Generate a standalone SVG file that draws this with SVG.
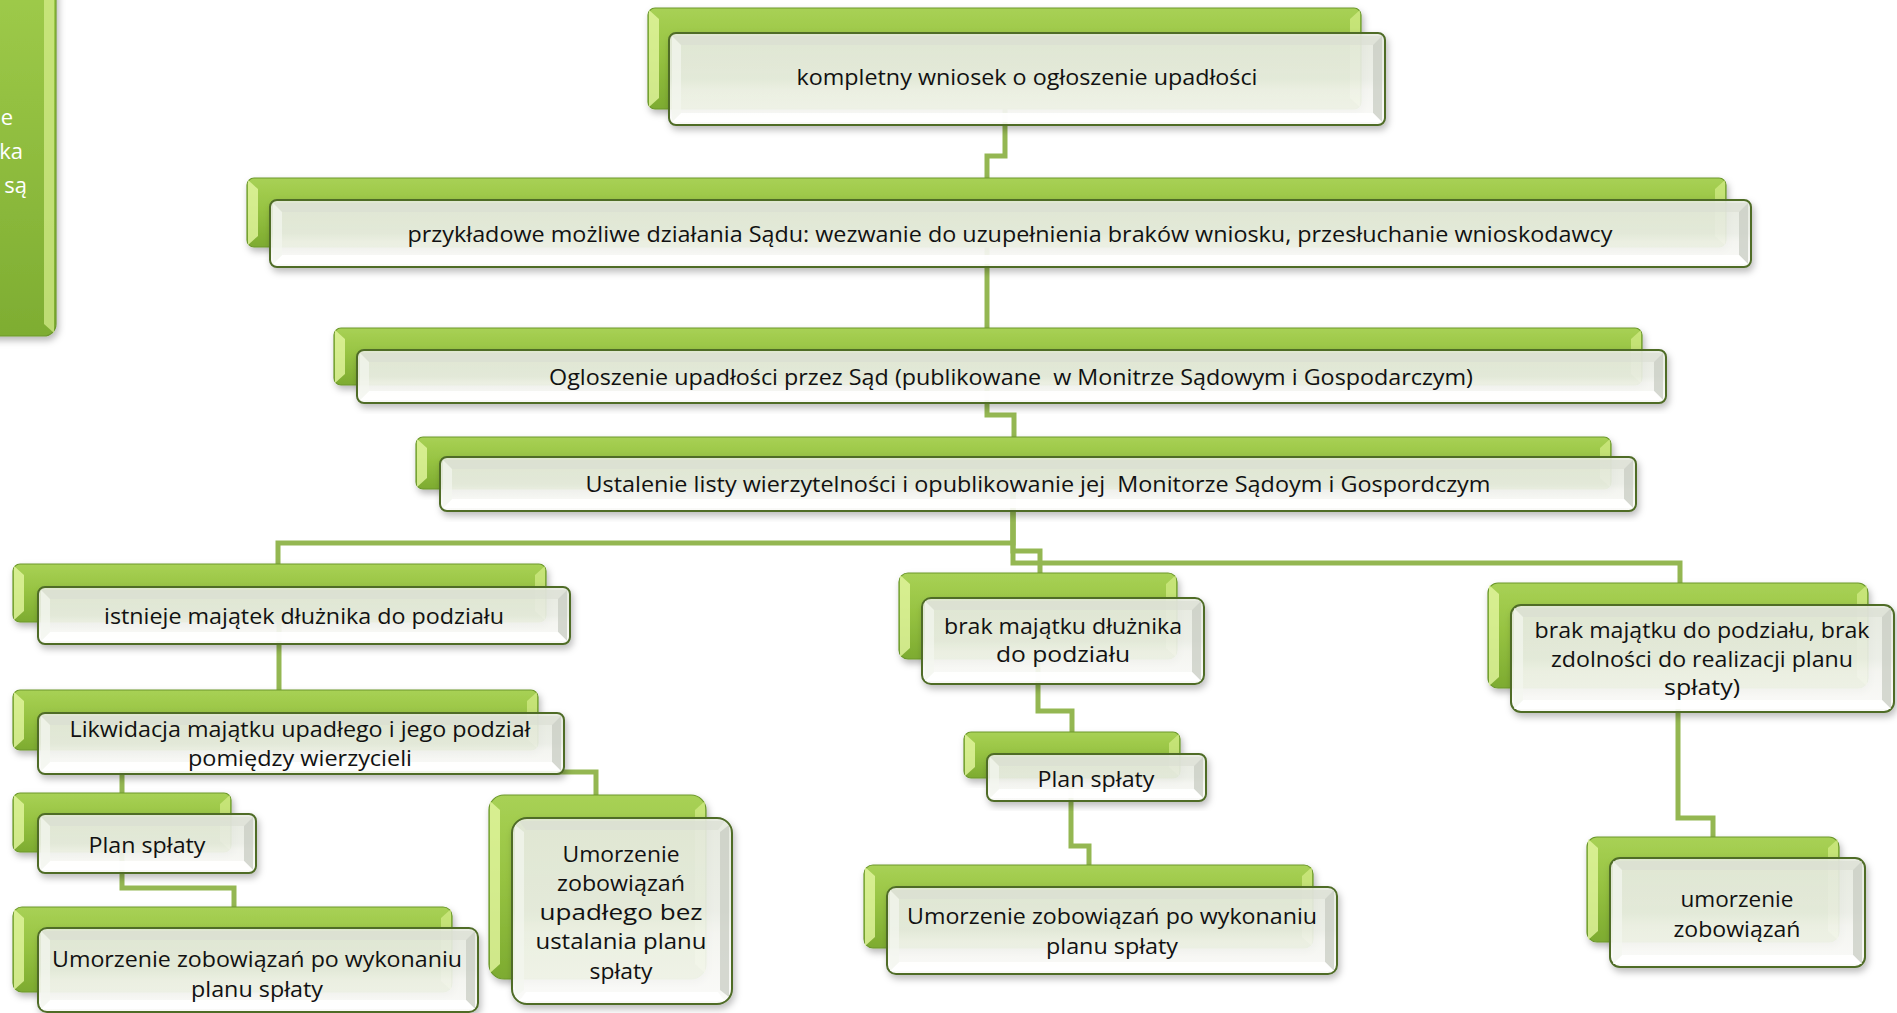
<svg xmlns="http://www.w3.org/2000/svg" width="1897" height="1013" viewBox="0 0 1897 1013">
<defs>
<linearGradient id="gG" x1="0" y1="0" x2="0" y2="1">
<stop offset="0" stop-color="#a8d155"/>
<stop offset="0.45" stop-color="#97c342"/>
<stop offset="1" stop-color="#7dab30"/>
</linearGradient>
<linearGradient id="gW" x1="0" y1="0" x2="0" y2="1">
<stop offset="0" stop-color="#e7ebe0"/>
<stop offset="0.5" stop-color="#edf0e8"/>
<stop offset="0.62" stop-color="#f6f7f2"/>
<stop offset="1" stop-color="#fdfdfb"/>
</linearGradient>
<linearGradient id="gL" x1="0" y1="0" x2="0" y2="1">
<stop offset="0" stop-color="#9fcb4a"/>
<stop offset="1" stop-color="#7ead32"/>
</linearGradient>
<filter id="sh" x="-5%" y="-10%" width="115%" height="130%">
<feDropShadow dx="2" dy="4" stdDeviation="3.5" flood-color="#000" flood-opacity="0.28"/>
</filter>
</defs>
<style>
.g{fill:url(#gG);stroke:#6c982c;stroke-width:1.2;filter:url(#sh)}
.w{fill:url(#gW);fill-opacity:0.9;stroke:#4f6c28;stroke-width:2;filter:url(#sh)}
.bl{fill:#e3f6a0;opacity:0.8}
.br{fill:#d8f08e;opacity:0.65}
.wt{fill:#d9ddd2;opacity:0.55}
.wr{fill:#c6cac0;opacity:0.7}
.wb{fill:#ffffff;opacity:0.9}
.wl{fill:#f4f6f0;opacity:0.7}
.t{font-family:"Open Sans","Noto Sans",sans-serif;font-size:22px;fill:#111;text-anchor:middle;dominant-baseline:central}
.tw{font-family:"Open Sans","Noto Sans",sans-serif;font-size:22px;fill:#fff;text-anchor:end;dominant-baseline:central}
.c{fill:none;stroke:#94b752;stroke-width:5;stroke-linejoin:miter}
</style>
<rect width="1897" height="1013" fill="#ffffff"/>

<g id="connectors">
<path class="c" d="M1005,109 V156 H987 V178"/>
<path class="c" d="M987,247 V328"/>
<path class="c" d="M987,385 V415 H1014 V437"/>
<path class="c" d="M1013,489 V543 H278 V564"/>
<path class="c" d="M1013,489 V551 H1040 V573"/>
<path class="c" d="M1013,489 V563 H1680 V583"/>
<path class="c" d="M279,622 V690"/>
<path class="c" d="M276,750 V772 H122 V793"/>
<path class="c" d="M276,750 V772 H596 V795"/>
<path class="c" d="M122,852 V888 H234 V907"/>
<path class="c" d="M1038,659 V711 H1072 V732"/>
<path class="c" d="M1071,778 V846 H1089 V865"/>
<path class="c" d="M1678,688 V818 H1713 V837"/>
</g>

<g id="node-left">
<rect x="-40" y="-20" width="96" height="356" rx="12" fill="url(#gL)" stroke="#6c982c" stroke-width="1.2" filter="url(#sh)"/>
<polygon points="54,-10 44,-10 44,324 54,333" fill="#d8f08e" opacity="0.7"/>
<text class="tw" x="13" y="116">e</text>
<text class="tw" x="23" y="150">ka</text>
<text class="tw" x="27" y="184">są</text>
</g>

<g id="n1">
<rect class="g" x="648" y="8" width="713" height="101" rx="7"/>
<polygon class="bl" points="649,10 659,19 659,98 649,107"/>
<polygon class="br" points="1360,10 1350,19 1350,98 1360,107"/>
<rect class="w" x="669" y="33" width="716" height="92" rx="7"/>
<polygon class="wt" points="672,36 1382,36 1373,45 681,45"/>
<polygon class="wr" points="1382,36 1382,122 1373,113 1373,45"/>
<polygon class="wb" points="672,122 1382,122 1373,113 681,113"/>
<polygon class="wl" points="672,36 681,45 681,113 672,122"/>
<text class="t" x="1027" y="76" textLength="461" lengthAdjust="spacingAndGlyphs">kompletny wniosek o ogłoszenie upadłości</text>
</g>

<g id="n2">
<rect class="g" x="247" y="178" width="1479" height="69" rx="7"/>
<polygon class="bl" points="248,180 258,189 258,236 248,245"/>
<polygon class="br" points="1725,180 1715,189 1715,236 1725,245"/>
<rect class="w" x="270" y="200" width="1481" height="67" rx="7"/>
<polygon class="wt" points="273,203 1748,203 1739,212 282,212"/>
<polygon class="wr" points="1748,203 1748,264 1739,255 1739,212"/>
<polygon class="wb" points="273,264 1748,264 1739,255 282,255"/>
<polygon class="wl" points="273,203 282,212 282,255 273,264"/>
<text class="t" x="1010" y="233" textLength="1205" lengthAdjust="spacingAndGlyphs">przykładowe możliwe działania Sądu: wezwanie do uzupełnienia braków wniosku, przesłuchanie wnioskodawcy</text>
</g>

<g id="n3">
<rect class="g" x="334" y="328" width="1308" height="57" rx="7"/>
<polygon class="bl" points="335,330 345,339 345,374 335,383"/>
<polygon class="br" points="1641,330 1631,339 1631,374 1641,383"/>
<rect class="w" x="357" y="350" width="1309" height="53" rx="7"/>
<polygon class="wt" points="360,353 1663,353 1654,362 369,362"/>
<polygon class="wr" points="1663,353 1663,400 1654,391 1654,362"/>
<polygon class="wb" points="360,400 1663,400 1654,391 369,391"/>
<polygon class="wl" points="360,353 369,362 369,391 360,400"/>
<text class="t" x="1011" y="376" textLength="924" lengthAdjust="spacingAndGlyphs" xml:space="preserve">Ogloszenie upadłości przez Sąd (publikowane  w Monitrze Sądowym i Gospodarczym)</text>
</g>

<g id="n4">
<rect class="g" x="416" y="437" width="1195" height="52" rx="7"/>
<polygon class="bl" points="417,439 427,448 427,478 417,487"/>
<polygon class="br" points="1610,439 1600,448 1600,478 1610,487"/>
<rect class="w" x="440" y="457" width="1196" height="54" rx="7"/>
<polygon class="wt" points="443,460 1633,460 1624,469 452,469"/>
<polygon class="wr" points="1633,460 1633,508 1624,499 1624,469"/>
<polygon class="wb" points="443,508 1633,508 1624,499 452,499"/>
<polygon class="wl" points="443,460 452,469 452,499 443,508"/>
<text class="t" x="1038" y="483" textLength="905" lengthAdjust="spacingAndGlyphs" xml:space="preserve">Ustalenie listy wierzytelności i opublikowanie jej  Monitorze Sądoym i Gospordczym</text>
</g>

<g id="n5a">
<rect class="g" x="13" y="564" width="533" height="58" rx="7"/>
<polygon class="bl" points="14,566 24,575 24,611 14,620"/>
<polygon class="br" points="545,566 535,575 535,611 545,620"/>
<rect class="w" x="38" y="587" width="532" height="57" rx="7"/>
<polygon class="wt" points="41,590 567,590 558,599 50,599"/>
<polygon class="wr" points="567,590 567,641 558,632 558,599"/>
<polygon class="wb" points="41,641 567,641 558,632 50,632"/>
<polygon class="wl" points="41,590 50,599 50,632 41,641"/>
<text class="t" x="304" y="615" textLength="400" lengthAdjust="spacingAndGlyphs">istnieje majątek dłużnika do podziału</text>
</g>

<g id="n5b">
<rect class="g" x="899" y="573" width="278" height="86" rx="9"/>
<polygon class="bl" points="900,575 910,584 910,648 900,657"/>
<polygon class="br" points="1176,575 1166,584 1166,648 1176,657"/>
<rect class="w" x="922" y="598" width="282" height="86" rx="9"/>
<polygon class="wt" points="925,601 1201,601 1192,610 934,610"/>
<polygon class="wr" points="1201,601 1201,681 1192,672 1192,610"/>
<polygon class="wb" points="925,681 1201,681 1192,672 934,672"/>
<polygon class="wl" points="925,601 934,610 934,672 925,681"/>
<text class="t" x="1063" y="625" textLength="238" lengthAdjust="spacingAndGlyphs">brak majątku dłużnika</text>
<text class="t" x="1063" y="653" textLength="134" lengthAdjust="spacingAndGlyphs">do podziału</text>
</g>

<g id="n5c">
<rect class="g" x="1488" y="583" width="380" height="105" rx="10"/>
<polygon class="bl" points="1489,585 1499,594 1499,677 1489,686"/>
<polygon class="br" points="1867,585 1857,594 1857,677 1867,686"/>
<rect class="w" x="1511" y="605" width="383" height="107" rx="10"/>
<polygon class="wt" points="1514,608 1891,608 1882,617 1523,617"/>
<polygon class="wr" points="1891,608 1891,709 1882,700 1882,617"/>
<polygon class="wb" points="1514,709 1891,709 1882,700 1523,700"/>
<polygon class="wl" points="1514,608 1523,617 1523,700 1514,709"/>
<text class="t" x="1702" y="629" textLength="335" lengthAdjust="spacingAndGlyphs">brak majątku do podziału, brak</text>
<text class="t" x="1702" y="658" textLength="302" lengthAdjust="spacingAndGlyphs">zdolności do realizacji planu</text>
<text class="t" x="1702" y="686" textLength="76" lengthAdjust="spacingAndGlyphs">spłaty)</text>
</g>

<g id="n6a">
<rect class="g" x="13" y="690" width="525" height="60" rx="7"/>
<polygon class="bl" points="14,692 24,701 24,739 14,748"/>
<polygon class="br" points="537,692 527,701 527,739 537,748"/>
<rect class="w" x="38" y="713" width="526" height="61" rx="7"/>
<polygon class="wt" points="41,716 561,716 552,725 50,725"/>
<polygon class="wr" points="561,716 561,771 552,762 552,725"/>
<polygon class="wb" points="41,771 561,771 552,762 50,762"/>
<polygon class="wl" points="41,716 50,725 50,762 41,771"/>
<text class="t" x="300" y="728" textLength="461" lengthAdjust="spacingAndGlyphs">Likwidacja majątku upadłego i jego podział</text>
<text class="t" x="300" y="757" textLength="224" lengthAdjust="spacingAndGlyphs">pomiędzy wierzycieli</text>
</g>

<g id="n6b">
<rect class="g" x="964" y="732" width="216" height="46" rx="7"/>
<polygon class="bl" points="965,734 975,743 975,767 965,776"/>
<polygon class="br" points="1179,734 1169,743 1169,767 1179,776"/>
<rect class="w" x="987" y="754" width="219" height="47" rx="7"/>
<polygon class="wt" points="990,757 1203,757 1194,766 999,766"/>
<polygon class="wr" points="1203,757 1203,798 1194,789 1194,766"/>
<polygon class="wb" points="990,798 1203,798 1194,789 999,789"/>
<polygon class="wl" points="990,757 999,766 999,789 990,798"/>
<text class="t" x="1096" y="778" textLength="117" lengthAdjust="spacingAndGlyphs">Plan spłaty</text>
</g>

<g id="n6c">
<rect class="g" x="1587" y="837" width="252" height="105" rx="10"/>
<polygon class="bl" points="1588,839 1598,848 1598,931 1588,940"/>
<polygon class="br" points="1838,839 1828,848 1828,931 1838,940"/>
<rect class="w" x="1610" y="858" width="255" height="109" rx="10"/>
<polygon class="wt" points="1613,861 1862,861 1853,870 1622,870"/>
<polygon class="wr" points="1862,861 1862,964 1853,955 1853,870"/>
<polygon class="wb" points="1613,964 1862,964 1853,955 1622,955"/>
<polygon class="wl" points="1613,861 1622,870 1622,955 1613,964"/>
<text class="t" x="1737" y="898" textLength="113" lengthAdjust="spacingAndGlyphs">umorzenie</text>
<text class="t" x="1737" y="928" textLength="127" lengthAdjust="spacingAndGlyphs">zobowiązań</text>
</g>

<g id="n7a">
<rect class="g" x="13" y="793" width="218" height="59" rx="7"/>
<polygon class="bl" points="14,795 24,804 24,841 14,850"/>
<polygon class="br" points="230,795 220,804 220,841 230,850"/>
<rect class="w" x="38" y="814" width="218" height="59" rx="7"/>
<polygon class="wt" points="41,817 253,817 244,826 50,826"/>
<polygon class="wr" points="253,817 253,870 244,861 244,826"/>
<polygon class="wb" points="41,870 253,870 244,861 50,861"/>
<polygon class="wl" points="41,817 50,826 50,861 41,870"/>
<text class="t" x="147" y="844" textLength="117" lengthAdjust="spacingAndGlyphs">Plan spłaty</text>
</g>

<g id="n8a">
<rect class="g" x="13" y="907" width="439" height="85" rx="9"/>
<polygon class="bl" points="14,909 24,918 24,981 14,990"/>
<polygon class="br" points="451,909 441,918 441,981 451,990"/>
<rect class="w" x="38" y="928" width="440" height="84" rx="9"/>
<polygon class="wt" points="41,931 475,931 466,940 50,940"/>
<polygon class="wr" points="475,931 475,1009 466,1000 466,940"/>
<polygon class="wb" points="41,1009 475,1009 466,1000 50,1000"/>
<polygon class="wl" points="41,931 50,940 50,1000 41,1009"/>
<text class="t" x="257" y="958" textLength="410" lengthAdjust="spacingAndGlyphs">Umorzenie zobowiązań po wykonaniu</text>
<text class="t" x="257" y="988" textLength="132" lengthAdjust="spacingAndGlyphs">planu spłaty</text>
</g>

<g id="n8b">
<rect class="g" x="489" y="795" width="217" height="184" rx="15"/>
<polygon class="bl" points="490,801 500,810 500,964 490,973"/>
<polygon class="br" points="705,801 695,810 695,964 705,973"/>
<rect class="w" x="512" y="818" width="220" height="186" rx="15"/>
<polygon class="wt" points="519,821 725,821 718,830 526,830"/>
<polygon class="wr" points="729,825 729,997 720,990 720,832"/>
<polygon class="wb" points="519,1001 725,1001 718,992 526,992"/>
<polygon class="wl" points="515,825 524,832 524,990 515,997"/>
<text class="t" x="621" y="853" textLength="117" lengthAdjust="spacingAndGlyphs">Umorzenie</text>
<text class="t" x="621" y="882" textLength="128" lengthAdjust="spacingAndGlyphs">zobowiązań</text>
<text class="t" x="621" y="911" textLength="163" lengthAdjust="spacingAndGlyphs">upadłego bez</text>
<text class="t" x="621" y="940" textLength="171" lengthAdjust="spacingAndGlyphs">ustalania planu</text>
<text class="t" x="621" y="970" textLength="63" lengthAdjust="spacingAndGlyphs">spłaty</text>
</g>

<g id="n9">
<rect class="g" x="864" y="865" width="449" height="83" rx="9"/>
<polygon class="bl" points="865,867 875,876 875,937 865,946"/>
<polygon class="br" points="1312,867 1302,876 1302,937 1312,946"/>
<rect class="w" x="887" y="887" width="450" height="87" rx="9"/>
<polygon class="wt" points="890,890 1334,890 1325,899 899,899"/>
<polygon class="wr" points="1334,890 1334,971 1325,962 1325,899"/>
<polygon class="wb" points="890,971 1334,971 1325,962 899,962"/>
<polygon class="wl" points="890,890 899,899 899,962 890,971"/>
<text class="t" x="1112" y="915" textLength="410" lengthAdjust="spacingAndGlyphs">Umorzenie zobowiązań po wykonaniu</text>
<text class="t" x="1112" y="945" textLength="132" lengthAdjust="spacingAndGlyphs">planu spłaty</text>
</g>
</svg>
